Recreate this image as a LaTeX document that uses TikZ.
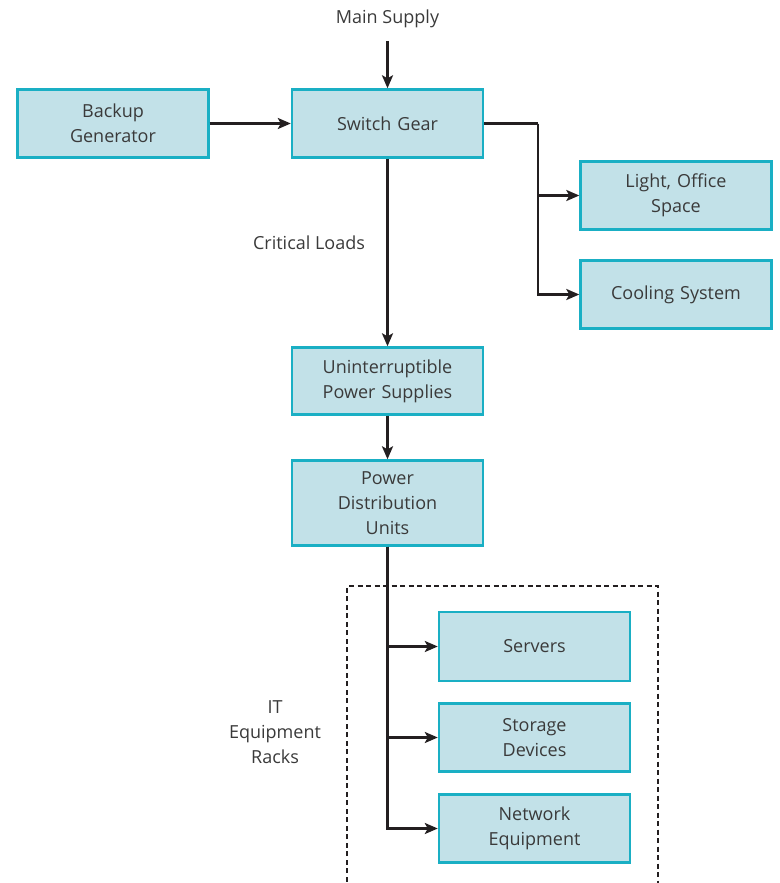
\documentclass[tikz,border=0pt]{standalone}
\usepackage{fontspec}
\setmainfont{Open Sans}
\usetikzlibrary{arrows.meta}
\definecolor{boxfill}{HTML}{C2E1E8}
\definecolor{boxline}{HTML}{1AAFC4}
\definecolor{txt}{HTML}{3A3A3A}
\definecolor{wire}{HTML}{231F20}
\begin{document}
\begin{tikzpicture}[x=1pt,y=-1pt,
  blk/.style={draw=boxline, line width=2.4pt, fill=boxfill, minimum width=191pt, text width=180pt, align=center, inner sep=0pt, font=\fontsize{18}{25}\selectfont, text=txt},
  lbl/.style={font=\fontsize{18}{25}\selectfont, text=txt, align=center, inner sep=0pt},
  con/.style={draw=wire, line width=2.5pt, -{Stealth[length=13pt,width=11pt,inset=3pt]}},
  ln/.style={draw=wire, line width=2.5pt}]
\useasboundingbox (0,0) rectangle (779,883);
\node[blk, minimum height=68pt] (bg) at (113,123.5) {Backup\\Generator};
\node[blk, minimum height=68pt] (sg) at (387.5,123.5) {Switch Gear};
\node[blk, minimum height=68pt] (lo) at (676,195.5) {Light, Office\\Space};
\node[blk, minimum height=68pt] (cs) at (676,294.5) {Cooling System};
\node[blk, minimum height=67pt] (ups) at (387.5,381) {Uninterruptible\\Power Supplies};
\node[blk, minimum height=85pt] (pdu) at (387.5,503) {Power\\Distribution\\Units};
\node[blk, minimum height=69pt] (srv) at (534.5,646.5) {Servers};
\node[blk, minimum height=68pt] (sto) at (534.5,737.5) {Storage\\Devices};
\node[blk, minimum height=68pt] (net) at (534.5,828.5) {Network\\Equipment};
\node[lbl] (ms) at (387.5,19) {Main Supply};
\node[lbl] (cl) at (309,243) {Critical Loads};
\node[lbl] (it) at (275,732) {IT\\Equipment\\Racks};
\draw[draw=wire, line width=2pt, dash pattern=on 5pt off 3.5pt] (347,890) -- (347,586) -- (658,586) -- (658,890);
\coordinate (mtop) at (387.5,41);
\draw[con] (mtop) -- (sg.north);
\draw[con] (bg.east) -- (sg.west);
\draw[con] (sg.south) -- (ups.north);
\draw[con] (ups.south) -- (pdu.north);
\coordinate (sj) at (538,123.5);
\draw[ln] (sg.east) -- (sj);
\draw[con] (sj) |- (lo.west);
\draw[con] (sj) |- (cs.west);
\draw[con] (pdu.south) |- (srv.west);
\draw[con] (pdu.south) |- (sto.west);
\draw[con] (pdu.south) |- (net.west);
\end{tikzpicture}
\end{document}
